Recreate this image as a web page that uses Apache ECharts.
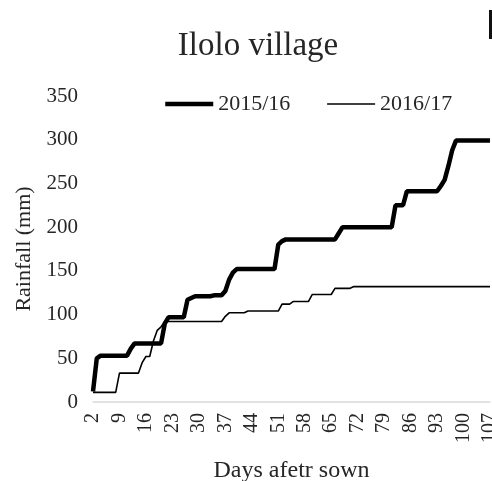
<!DOCTYPE html>
<html>
<head>
<meta charset="utf-8">
<title>Ilolo village</title>
<script src="https://cdn.jsdelivr.net/npm/echarts@6/dist/echarts.min.js"></script>
<style>
    html, body {margin: 0; padding: 0; background: #fff;}
    #chart {width: 492px; height: 481px;}
</style>
</head>
<body>
<div id="chart"></div>
<script>
// days after sowing, 2 .. 107
let days = [];
for (let d = 2; d <= 107; d++) {
    days.push(String(d));
}

// cumulative rainfall (mm)
let rain2015 = [
    12, 50, 53, 53, 53, 53, 53, 53, 53, 53,
    61, 67, 67, 67, 67, 67, 67, 67, 67, 90,
    97, 97, 97, 97, 97, 117, 119, 121, 121, 121,
    121, 121, 122, 122, 122, 127, 140, 148, 152, 152,
    152, 152, 152, 152, 152, 152, 152, 152, 152, 180,
    184, 186, 186, 186, 186, 186, 186, 186, 186, 186,
    186, 186, 186, 186, 186, 193, 200, 200, 200, 200,
    200, 200, 200, 200, 200, 200, 200, 200, 200, 200,
    225, 225, 225, 241, 241, 241, 241, 241, 241, 241,
    241, 241, 247, 254, 270, 288, 299, 299, 299, 299,
    299, 299, 299, 299, 299, 299
];
let rain2016 = [
    11, 11, 11, 11, 11, 11, 11, 33, 33, 33,
    33, 33, 33, 45, 52, 52, 70, 82, 86, 92,
    92, 92, 92, 92, 92, 92, 92, 92, 92, 92,
    92, 92, 92, 92, 92, 98, 102, 102, 102, 102,
    102, 104, 104, 104, 104, 104, 104, 104, 104, 104,
    112, 112, 112, 115, 115, 115, 115, 115, 123, 123,
    123, 123, 123, 123, 130, 130, 130, 130, 130, 132,
    132, 132, 132, 132, 132, 132, 132, 132, 132, 132,
    132, 132, 132, 132, 132, 132, 132, 132, 132, 132,
    132, 132, 132, 132, 132, 132, 132, 132, 132, 132,
    132, 132, 132, 132, 132, 132
];

let FONT = '"Liberation Serif", "DejaVu Serif", serif';
let TXT = '#262626';

let myChart = echarts.init(document.getElementById('chart'));
let option = {
    animation: false,
    color: ['#000', '#000'],
    title: {
        text: 'Ilolo village',
        left: 253,
        top: 25,
        textAlign: 'center',
        textStyle: {fontFamily: FONT, fontSize: 33, fontWeight: 'normal', color: TXT}
    },
    legend: {
        top: 88,
        left: 158,
        itemGap: 36,
        itemWidth: 48,
        itemHeight: 14,
        itemStyle: {opacity: 0},
        textStyle: {fontFamily: FONT, fontSize: 22, color: TXT},
        data: [
            {name: '2015/16', lineStyle: {width: 4.5, color: '#000'}},
            {name: '2016/17', lineStyle: {width: 1.5, color: '#000'}}
        ]
    },
    grid: {left: 93, right: 2, top: 96, bottom: 79, outerBoundsMode: 'none', containLabel: false},
    xAxis: {
        type: 'category',
        data: days,
        boundaryGap: false,
        name: 'Days afetr sown',
        nameLocation: 'middle',
        nameGap: 57,
        nameTextStyle: {fontFamily: FONT, fontSize: 24, color: TXT},
        axisLine: {lineStyle: {color: '#d9d9d9', width: 1.5}},
        axisTick: {show: false},
        axisLabel: {
            interval: 6,
            rotate: 90,
            margin: 11,
            fontFamily: FONT,
            fontSize: 20,
            color: TXT
        }
    },
    yAxis: {
        type: 'value',
        min: 0,
        max: 350,
        interval: 50,
        name: 'Rainfall (mm)',
        nameLocation: 'middle',
        nameGap: 51,
        nameTextStyle: {fontFamily: FONT, fontSize: 22, color: TXT},
        splitLine: {show: false},
        axisLine: {show: false},
        axisTick: {show: false},
        axisLabel: {margin: 15, fontFamily: FONT, fontSize: 21, color: TXT}
    },
    graphic: [{
        type: 'rect',
        shape: {x: 489, y: 10, width: 3, height: 29},
        style: {fill: '#111'}
    }],
    series: [
        {
            name: '2015/16',
            type: 'line',
            data: rain2015,
            symbol: 'none',
            lineStyle: {color: '#000', width: 4.5}
        },
        {
            name: '2016/17',
            type: 'line',
            data: rain2016,
            symbol: 'none',
            lineStyle: {color: '#000', width: 1.6}
        }
    ]
};
myChart.setOption(option);
</script>
</body>
</html>
